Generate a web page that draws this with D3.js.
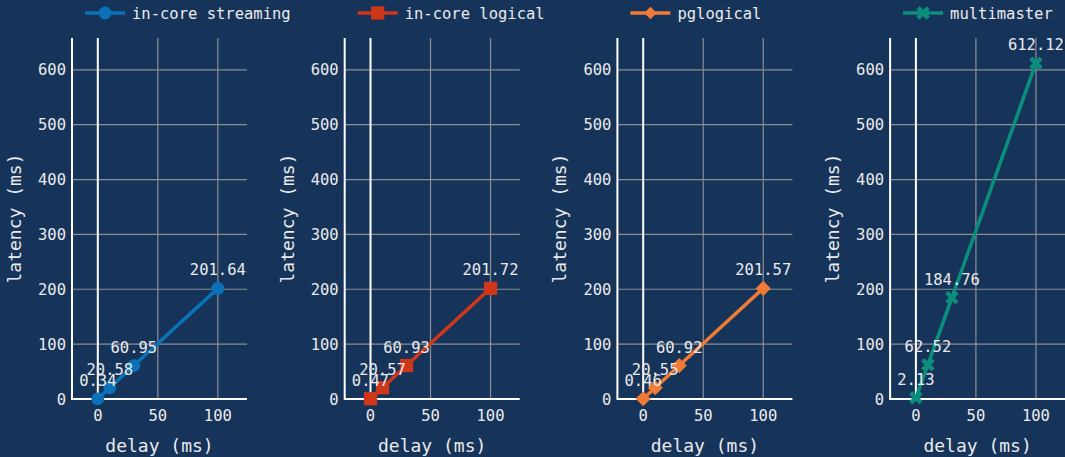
<!DOCTYPE html>
<html>
<head>
<meta charset="utf-8">
<script src="https://cdn.jsdelivr.net/npm/d3@7"></script>
<style>
  body { margin: 0; background: #16345a; }
  svg { display: block; }
  text { font-family: "DejaVu Sans Mono", monospace; fill: #eaeaea; }
</style>
</head>
<body>
<svg id="chart" width="1065" height="457"></svg>
<script>
// data
var delays = [0, 10, 30, 100]
var seriesNames = ['in-core streaming', 'in-core logical', 'pglogical', 'multimaster']
var streaming = [0.34, 20.58, 60.95, 201.64]
var logical = [0.47, 20.57, 60.93, 201.72]
var pglogical = [0.46, 20.55, 60.92, 201.57]
var multimaster = [2.13, 62.52, 184.76, 612.12]
var seriesValues = [streaming, logical, pglogical, multimaster]
var colors = ['#0b72b9', '#d0361a', '#f07b36', '#0b8f7c']
var xTicks = [0, 50, 100]
var yTicks = [0, 100, 200, 300, 400, 500, 600]

var svg = d3.select('#chart')
var W = 1065, H = 457
svg.append('rect').attr('width', W).attr('height', H).attr('fill', '#16345a')

var panelW = 175
var panelStep = 272.7
var plotTop = 38, plotBottom = 399

function markerPath(i, big) {
    if (i == 0) return d3.symbol(d3.symbolCircle, 130)()
    if (i == 1) return d3.symbol(d3.symbolSquare, 175)()
    if (i == 2) return d3.symbol(d3.symbolSquare, big ? 115 : 80)()
    return d3.symbol(d3.symbolX, 70)()
}

function drawMarker(g, i, x, y) {
    var p = g.append('path')
        .attr('d', markerPath(i, true))
        .attr('fill', colors[i])
    if (i == 2) p.attr('transform', 'translate(' + x + ',' + y + ') rotate(45)')
    else p.attr('transform', 'translate(' + x + ',' + y + ')')
    if (i == 3) p.attr('stroke', colors[i]).attr('stroke-width', 4.5).attr('fill', 'none')
}

seriesNames.forEach(function(name, i) {
    var left = 72 + i * panelStep
    var x = d3.scaleLinear().domain([-21.5, 124.3]).range([left, left + panelW])
    var y = d3.scaleLinear().domain([0, 658]).range([plotBottom, plotTop])
    var g = svg.append('g')

    // grid
    g.selectAll('line.hgrid').data(yTicks.filter(function(t) { return t > 0 }))
        .enter().append('line')
        .attr('x1', left).attr('x2', left + panelW)
        .attr('y1', function(d) { return y(d) }).attr('y2', function(d) { return y(d) })
        .attr('stroke', '#8a8f98').attr('stroke-width', 1.2)
    g.selectAll('line.vgrid').data(xTicks.filter(function(t) { return t > 0 }))
        .enter().append('line')
        .attr('x1', function(d) { return x(d) }).attr('x2', function(d) { return x(d) })
        .attr('y1', plotTop).attr('y2', plotBottom)
        .attr('stroke', '#8a8f98').attr('stroke-width', 1.2)
    // zero line
    g.append('line').attr('x1', x(0)).attr('x2', x(0)).attr('y1', plotTop).attr('y2', plotBottom)
        .attr('stroke', '#ffffff').attr('stroke-width', 2)
    // axis lines
    g.append('line').attr('x1', left).attr('x2', left).attr('y1', plotTop).attr('y2', plotBottom + 1)
        .attr('stroke', '#ffffff').attr('stroke-width', 2)
    g.append('line').attr('x1', left).attr('x2', left + panelW).attr('y1', plotBottom).attr('y2', plotBottom)
        .attr('stroke', '#ffffff').attr('stroke-width', 2)

    // tick labels
    g.selectAll('text.yt').data(yTicks).enter().append('text')
        .attr('x', left - 6).attr('y', function(d) { return y(d) })
        .attr('dy', '0.36em').attr('text-anchor', 'end')
        .style('font-size', '15.5px').text(function(d) { return d })
    g.selectAll('text.xt').data(xTicks).enter().append('text')
        .attr('x', function(d) { return x(d) }).attr('y', 421)
        .attr('text-anchor', 'middle')
        .style('font-size', '15.5px').text(function(d) { return d })

    // axis titles
    g.append('text').attr('x', left + panelW / 2).attr('y', 452)
        .attr('text-anchor', 'middle').style('font-size', '18px').text('delay (ms)')
    g.append('text').attr('transform', 'translate(' + (left - 51) + ',' + ((plotTop + plotBottom) / 2) + ') rotate(-90)')
        .attr('text-anchor', 'middle').style('font-size', '18px').text('latency (ms)')

    // line
    var vals = seriesValues[i]
    var line = d3.line().x(function(d, k) { return x(delays[k]) }).y(function(d) { return y(d) })
    g.append('path').datum(vals).attr('d', line)
        .attr('fill', 'none').attr('stroke', colors[i]).attr('stroke-width', 3.5)
    vals.forEach(function(v, k) { drawMarker(g, i, x(delays[k]), y(v)) })
    // value labels
    g.selectAll('text.lab').data(vals).enter().append('text')
        .attr('x', function(d, k) { return x(delays[k]) })
        .attr('y', function(d) { return y(d) - 13 })
        .attr('text-anchor', 'middle').style('font-size', '15.5px')
        .text(function(d) { return d.toFixed(2) })

    // legend
    var lx = 85 + i * 272.7
    var lg = svg.append('g')
    lg.append('line').attr('x1', lx).attr('x2', lx + 40).attr('y1', 13).attr('y2', 13)
        .attr('stroke', colors[i]).attr('stroke-width', 3.5)
    var mp = lg.append('path').attr('d', markerPath(i, false)).attr('fill', colors[i])
    if (i == 2) mp.attr('transform', 'translate(' + (lx + 20) + ',13) rotate(45)')
    else mp.attr('transform', 'translate(' + (lx + 20) + ',13)')
    if (i == 3) mp.attr('stroke', colors[i]).attr('stroke-width', 4.5).attr('fill', 'none')
    lg.append('text').attr('x', lx + 47).attr('y', 13).attr('dy', '0.36em')
        .style('font-size', '15.5px').text(name)
})
</script>
</body>
</html>
